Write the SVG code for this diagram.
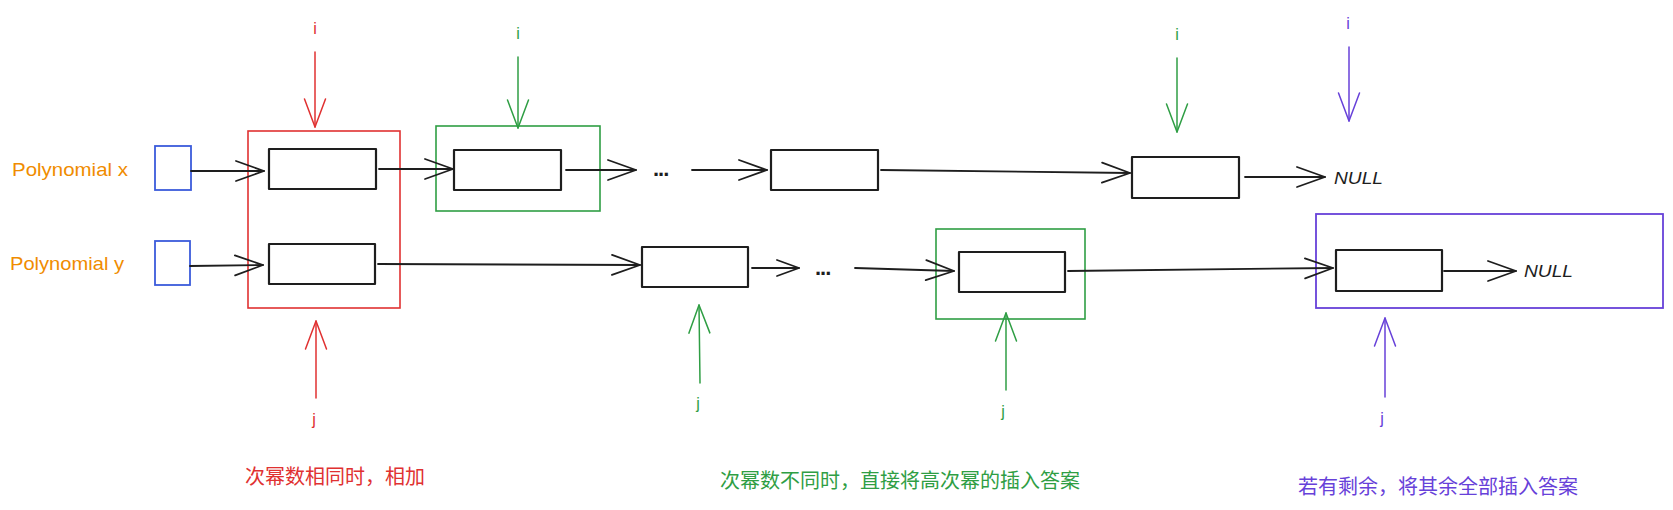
<svg xmlns="http://www.w3.org/2000/svg" width="1673" height="510" viewBox="0 0 1673 510">
<style>
  .bg{fill:#ffffff}
  .node{fill:none;stroke:#1e1e1e;stroke-width:2.2;stroke-linejoin:round}
  .head{fill:none;stroke:#3b5bdb;stroke-width:1.8}
  .red{fill:none;stroke:#e03131;stroke-width:1.6}
  .green{fill:none;stroke:#2f9e44;stroke-width:1.6}
  .violet{fill:none;stroke:#6741d9;stroke-width:1.8}
  .lbl{font-family:"Liberation Sans","Noto Sans",sans-serif;font-size:19px;fill:#f08c00}
  .null{font-family:"Liberation Sans","Noto Sans",sans-serif;font-size:17px;font-style:italic;fill:#1e1e1e}
  .dots{font-family:"Liberation Sans",sans-serif;font-size:22px;font-weight:bold;fill:#1e1e1e;letter-spacing:-1px}
  .ij{font-family:"Liberation Sans",sans-serif;font-size:16px;text-anchor:middle}
  .cn{font-family:"Noto Sans CJK SC","Noto Sans",sans-serif;font-size:20px}
  .k{fill:none;stroke:#1e1e1e;stroke-width:1.8;stroke-linecap:round}
  .kr{fill:none;stroke:#e03131;stroke-width:1.5;stroke-linecap:round}
  .kg{fill:none;stroke:#2f9e44;stroke-width:1.5;stroke-linecap:round}
  .kv{fill:none;stroke:#6741d9;stroke-width:1.5;stroke-linecap:round}
</style>
<defs>
  <marker id="ak" markerUnits="userSpaceOnUse" markerWidth="32" markerHeight="26" refX="29" refY="12" orient="auto" overflow="visible">
    <path d="M1,2 L29,12 L1,22" fill="none" stroke="#1e1e1e" stroke-width="1.8" stroke-linecap="round" stroke-linejoin="round"/>
  </marker>
  <marker id="aks" markerUnits="userSpaceOnUse" markerWidth="26" markerHeight="20" refX="23" refY="9" orient="auto" overflow="visible">
    <path d="M1,1 L23,9 L1,17" fill="none" stroke="#1e1e1e" stroke-width="1.8" stroke-linecap="round" stroke-linejoin="round"/>
  </marker>
  <marker id="ar" markerUnits="userSpaceOnUse" markerWidth="32" markerHeight="26" refX="29" refY="12" orient="auto" overflow="visible">
    <path d="M1,1.5 L29,12 L1,22.5" fill="none" stroke="#e03131" stroke-width="1.5" stroke-linecap="round" stroke-linejoin="round"/>
  </marker>
  <marker id="ag" markerUnits="userSpaceOnUse" markerWidth="32" markerHeight="26" refX="29" refY="12" orient="auto" overflow="visible">
    <path d="M1,1.5 L29,12 L1,22.5" fill="none" stroke="#2f9e44" stroke-width="1.5" stroke-linecap="round" stroke-linejoin="round"/>
  </marker>
  <marker id="av" markerUnits="userSpaceOnUse" markerWidth="32" markerHeight="26" refX="29" refY="12" orient="auto" overflow="visible">
    <path d="M1,1.5 L29,12 L1,22.5" fill="none" stroke="#6741d9" stroke-width="1.5" stroke-linecap="round" stroke-linejoin="round"/>
  </marker>
</defs>
<rect class="bg" x="0" y="0" width="1673" height="510"/>

<g id="labels">
  <text id="label-x" class="lbl" x="12" y="176" textLength="116" lengthAdjust="spacingAndGlyphs">Polynomial x</text>
  <text id="label-y" class="lbl" x="10" y="270" textLength="114" lengthAdjust="spacingAndGlyphs">Polynomial y</text>
</g>

<g id="head-x"><rect class="head" x="155" y="146" width="36" height="44"/></g>
<g id="head-y"><rect class="head" x="155" y="241" width="35" height="44"/></g>

<g id="frame-equal"><rect class="red" x="248" y="131" width="152" height="177"/></g>
<g id="frame-diff-x"><rect class="green" x="436" y="126" width="164" height="85"/></g>
<g id="frame-diff-y"><rect class="green" x="936" y="229" width="149" height="90"/></g>
<g id="frame-rest"><rect class="violet" x="1316" y="214" width="347" height="94"/></g>

<g id="x1"><rect class="node" x="269" y="149" width="107" height="40"/></g>
<g id="x2"><rect class="node" x="454" y="150" width="107" height="40"/></g>
<g id="x3"><rect class="node" x="771" y="150" width="107" height="40"/></g>
<g id="x4"><rect class="node" x="1132" y="157" width="107" height="41"/></g>
<g id="y1"><rect class="node" x="269" y="244" width="106" height="40"/></g>
<g id="y2"><rect class="node" x="642" y="247" width="106" height="40"/></g>
<g id="y3"><rect class="node" x="959" y="252" width="106" height="40"/></g>
<g id="y4"><rect class="node" x="1336" y="250" width="106" height="41"/></g>

<g id="null-x"><text class="null" x="1334" y="184" textLength="49" lengthAdjust="spacingAndGlyphs">NULL</text></g>
<g id="null-y"><text class="null" x="1524" y="277" textLength="49" lengthAdjust="spacingAndGlyphs">NULL</text></g>
<g id="dots-x"><text class="dots" x="653" y="176">...</text></g>
<g id="dots-y"><text class="dots" x="815" y="275">...</text></g>

<g id="connectors">
  <line class="k" x1="191" y1="171" x2="264" y2="171" marker-end="url(#ak)"/>
  <line class="k" x1="190" y1="266" x2="263" y2="265" marker-end="url(#ak)"/>
  <line class="k" x1="379" y1="169" x2="453" y2="169" marker-end="url(#ak)"/>
  <line class="k" x1="566" y1="170" x2="636" y2="170" marker-end="url(#ak)"/>
  <line class="k" x1="692" y1="170" x2="767" y2="170" marker-end="url(#ak)"/>
  <line class="k" x1="881" y1="170" x2="1130" y2="173" marker-end="url(#ak)"/>
  <line class="k" x1="1245" y1="177" x2="1325" y2="177" marker-end="url(#ak)"/>
  <line class="k" x1="378" y1="264" x2="640" y2="265" marker-end="url(#ak)"/>
  <line class="k" x1="752" y1="268" x2="799" y2="268" marker-end="url(#aks)"/>
  <line class="k" x1="855" y1="268" x2="954" y2="271" marker-end="url(#ak)"/>
  <line class="k" x1="1068" y1="271" x2="1333" y2="268" marker-end="url(#ak)"/>
  <line class="k" x1="1444" y1="271" x2="1516" y2="271" marker-end="url(#ak)"/>

  <line class="kr" x1="315" y1="52" x2="315" y2="127" marker-end="url(#ar)"/>
  <line class="kg" x1="518" y1="57" x2="518" y2="128" marker-end="url(#ag)"/>
  <line class="kg" x1="1177" y1="58" x2="1177" y2="132" marker-end="url(#ag)"/>
  <line class="kv" x1="1349" y1="47" x2="1349" y2="121" marker-end="url(#av)"/>

  <line class="kr" x1="316" y1="398" x2="316" y2="321" marker-end="url(#ar)"/>
  <line class="kg" x1="700" y1="383" x2="699" y2="305" marker-end="url(#ag)"/>
  <line class="kg" x1="1006" y1="390" x2="1006" y2="313" marker-end="url(#ag)"/>
  <line class="kv" x1="1385" y1="397" x2="1385" y2="318" marker-end="url(#av)"/>
</g>

<g id="pointers">
  <text class="ij" x="315" y="34" fill="#e03131">i</text>
  <text class="ij" x="518" y="39" fill="#2f9e44">i</text>
  <text class="ij" x="1177" y="40" fill="#2f9e44">i</text>
  <text class="ij" x="1348" y="29" fill="#6741d9">i</text>
  <text class="ij" x="314" y="425" fill="#e03131">j</text>
  <text class="ij" x="698" y="409" fill="#2f9e44">j</text>
  <text class="ij" x="1003" y="417" fill="#2f9e44">j</text>
  <text class="ij" x="1382" y="424" fill="#6741d9">j</text>
</g>

<g id="notes">
  <text class="cn" x="245" y="484" fill="#e03131">次幂数相同时，相加</text>
  <text class="cn" x="720" y="488" fill="#2f9e44">次幂数不同时，直接将高次幂的插入答案</text>
  <text class="cn" x="1298" y="494" fill="#6741d9">若有剩余，将其余全部插入答案</text>
</g>
</svg>
